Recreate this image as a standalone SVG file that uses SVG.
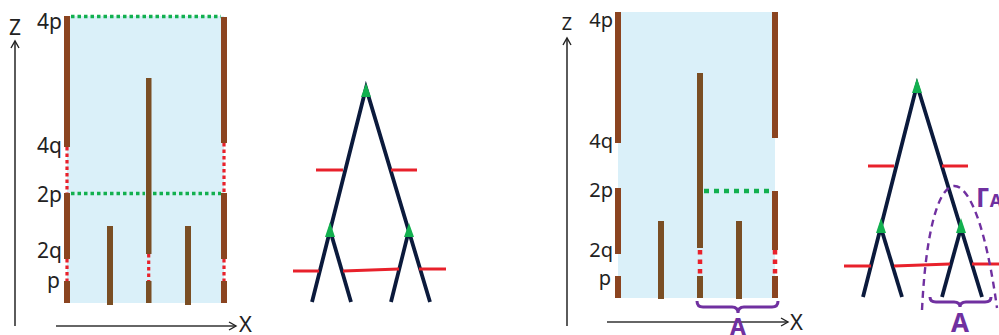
<svg xmlns="http://www.w3.org/2000/svg" width="999" height="335" viewBox="0 0 999 335">
<defs>
<marker id="arr" markerWidth="12" markerHeight="12" refX="10" refY="6" orient="auto" markerUnits="userSpaceOnUse">
<polyline points="3,2 10,6 3,10" fill="none" stroke="#222" stroke-width="1.4"/>
</marker>
<style>
.lbl{font-family:"Noto Sans","Open Sans","Liberation Sans",sans-serif;fill:#222;}
.ax{stroke:#333;stroke-width:1.6;fill:none;}
.bg{fill:#DAF0F9;}
.be{fill:#8B4420;}
.bi{fill:#7A4E24;}
.rd{stroke:#E8212B;stroke-width:3.2;stroke-dasharray:3.5 3;fill:none;}
.rd2{stroke:#E8212B;stroke-width:4.5;stroke-dasharray:4.5 5;fill:none;}
.gd{stroke:#12B04F;stroke-width:3.5;stroke-dasharray:3.5 3;fill:none;}
.gd2{stroke:#12B04F;stroke-width:4.5;stroke-dasharray:5 5;fill:none;}
.tr{stroke:#0B1A3C;stroke-width:3.8;fill:none;}
.rl{stroke:#E8212B;stroke-width:3;fill:none;}
.gt{fill:#12B04F;}
.pu{stroke:#7030A0;stroke-width:3;fill:none;}
.pd{stroke:#7030A0;stroke-width:2.4;stroke-dasharray:7 5;fill:none;}
.pt{font-family:"Noto Sans","Open Sans","Liberation Sans",sans-serif;font-weight:bold;fill:#7030A0;}
</style>
</defs>

<g id="panel-left">
<rect class="bg" x="67" y="16" width="157" height="287"/>
<g id="left-bars">
<rect class="be" x="64" y="16" width="6" height="131"/>
<rect class="be" x="64" y="193" width="6" height="66"/>
<rect class="be" x="64" y="281" width="6" height="22"/>
<rect class="be" x="221" y="17" width="6" height="126"/>
<rect class="be" x="221" y="193" width="6" height="66"/>
<rect class="be" x="221" y="281" width="6" height="22"/>
<rect class="bi" x="146" y="78" width="5.5" height="176"/>
<rect class="bi" x="146" y="281" width="5.5" height="22"/>
<rect class="bi" x="107" y="226" width="6" height="79"/>
<rect class="bi" x="185" y="226" width="6" height="79"/>
</g>
<g id="left-dots">
<line class="gd" x1="71" y1="16.5" x2="221" y2="16.5"/>
<line class="gd" x1="71" y1="193.5" x2="145" y2="193.5"/>
<line class="gd" x1="153" y1="193.5" x2="221" y2="193.5"/>
<line class="rd" x1="67" y1="147" x2="67" y2="193"/>
<line class="rd" x1="67" y1="259" x2="67" y2="281"/>
<line class="rd" x1="224" y1="143" x2="224" y2="193"/>
<line class="rd" x1="224" y1="259" x2="224" y2="281"/>
<line class="rd" x1="148.7" y1="254" x2="148.7" y2="281"/>
</g>
<g id="left-labels">
<text class="lbl" x="62" y="29" font-size="21" text-anchor="end">4p</text>
<text class="lbl" x="62" y="153" font-size="21" text-anchor="end">4q</text>
<text class="lbl" x="62" y="202" font-size="21" text-anchor="end">2p</text>
<text class="lbl" x="62" y="258" font-size="21" text-anchor="end">2q</text>
<text class="lbl" x="60" y="288" font-size="21" text-anchor="end">p</text>
</g>
<g id="left-axes">
<line class="ax" x1="15" y1="326" x2="15" y2="41" marker-end="url(#arr)"/>
<line class="ax" x1="56" y1="326" x2="236" y2="326" marker-end="url(#arr)"/>
<text class="lbl" x="15" y="35" font-size="21" text-anchor="middle">Z</text>
<text class="lbl" x="239" y="332" font-size="22">X</text>
</g>
</g>

<g id="tree-left">
<g id="tree-left-branches">
<polyline class="tr" points="312,302 366,88 430,302"/>
<line class="tr" x1="330" y1="230" x2="351" y2="302"/>
<line class="tr" x1="409" y1="230" x2="391" y2="302"/>
</g>
<g id="tree-left-cuts">
<line class="rl" x1="316" y1="170" x2="343" y2="170"/>
<line class="rl" x1="391" y1="170" x2="417" y2="170"/>
<line class="rl" x1="293" y1="271" x2="319" y2="271"/>
<line class="rl" x1="343" y1="271" x2="399" y2="269"/>
<line class="rl" x1="419" y1="269" x2="446" y2="269"/>
</g>
<g id="tree-left-nodes">
<polygon class="gt" points="366,83 361,97 371,97"/>
<polygon class="gt" points="330,222 325,237 335,237"/>
<polygon class="gt" points="409,223 404,237 414,237"/>
</g>
</g>

<g id="panel-right">
<rect class="bg" x="618" y="12" width="157" height="286"/>
<g id="right-bars">
<rect class="be" x="615" y="12" width="6" height="131"/>
<rect class="be" x="615" y="188" width="6" height="66"/>
<rect class="be" x="615" y="276" width="6" height="22"/>
<rect class="be" x="772" y="12" width="6" height="126"/>
<rect class="be" x="772" y="191" width="6" height="59"/>
<rect class="be" x="772" y="276" width="6" height="22"/>
<rect class="bi" x="697" y="73" width="6" height="175"/>
<rect class="bi" x="697" y="276" width="6" height="22"/>
<rect class="bi" x="658" y="221" width="6" height="78"/>
<rect class="bi" x="736" y="221" width="6" height="78"/>
</g>
<g id="right-dots">
<line class="gd2" x1="704" y1="191" x2="772" y2="191"/>
<line class="rd2" x1="700" y1="250" x2="700" y2="274"/>
<line class="rd2" x1="775" y1="250" x2="775" y2="276"/>
</g>
<g id="right-labels">
<text class="lbl" x="613" y="27" font-size="20" text-anchor="end">4p</text>
<text class="lbl" x="613" y="148" font-size="20" text-anchor="end">4q</text>
<text class="lbl" x="613" y="197" font-size="20" text-anchor="end">2p</text>
<text class="lbl" x="613" y="257" font-size="20" text-anchor="end">2q</text>
<text class="lbl" x="611" y="285" font-size="20" text-anchor="end">p</text>
</g>
<g id="right-axes">
<line class="ax" x1="567" y1="326" x2="567" y2="38" marker-end="url(#arr)"/>
<line class="ax" x1="607" y1="322" x2="788" y2="322" marker-end="url(#arr)"/>
<text class="lbl" x="567" y="30" font-size="18" text-anchor="middle">Z</text>
<text class="lbl" x="790" y="330" font-size="22">X</text>
</g>
<g id="right-brace">
<path class="pu" d="M697,301 Q697,307 703,307 L732,307 Q738,307 738,313 Q738,307 744,307 L772,307 Q778,307 778,301"/>
<text class="pt" x="738" y="335" font-size="23" text-anchor="middle">A</text>
</g>
</g>

<g id="tree-right">
<g id="tree-right-branches">
<polyline class="tr" points="863,297 917,85 982,297"/>
<line class="tr" x1="881" y1="228" x2="902" y2="297"/>
<line class="tr" x1="961" y1="228" x2="942" y2="297"/>
</g>
<g id="tree-right-cuts">
<line class="rl" x1="868" y1="166" x2="894" y2="166"/>
<line class="rl" x1="942" y1="166" x2="968" y2="166"/>
<line class="rl" x1="844" y1="266" x2="871" y2="266"/>
<line class="rl" x1="894" y1="266" x2="950" y2="264"/>
<line class="rl" x1="972" y1="264" x2="999" y2="264"/>
</g>
<g id="tree-right-nodes">
<polygon class="gt" points="917,78 912,93 922,93"/>
<polygon class="gt" points="881,218 876,233 886,233"/>
<polygon class="gt" points="961,218 956,233 966,233"/>
</g>
<g id="gamma-region">
<path class="pd" d="M922,310 C930,145 975,145 997,308"/>
<text class="pt" x="976" y="207" font-size="26">Γ<tspan font-size="18">A</tspan></text>
<path class="pu" d="M930,297 Q930,302 936,302 L954,302 Q960,302 960,307 Q960,302 966,302 L985,302 Q991,302 991,297"/>
<text class="pt" x="960" y="332" font-size="26" text-anchor="middle">A</text>
</g>
</g>
</svg>
